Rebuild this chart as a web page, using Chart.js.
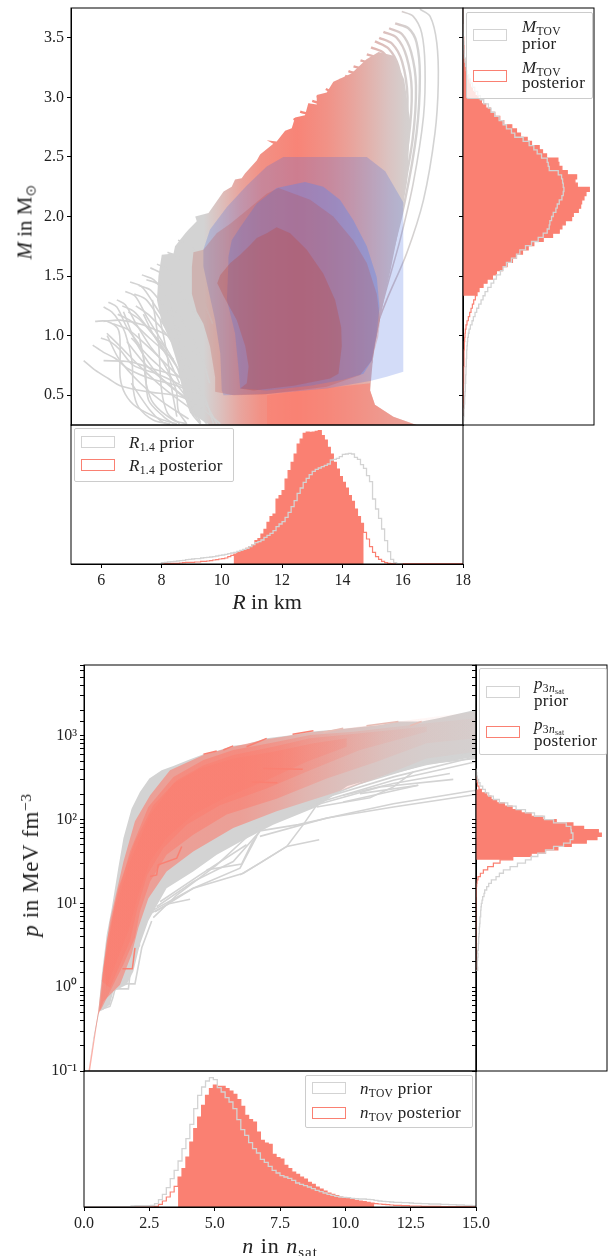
<!DOCTYPE html>
<html>
<head>
<meta charset="utf-8">
<title>EOS posterior</title>
<script src="https://cdn.jsdelivr.net/npm/chart.js@4"></script>
<style>
html,body{margin:0;padding:0;background:#fff;}
#page{position:relative;width:608px;height:1256px;overflow:hidden;font-family:"Liberation Serif",serif;color:#222;}
canvas{position:absolute;}
.legend{position:absolute;box-sizing:border-box;border:1px solid #ccc;border-radius:2px;background:rgba(255,255,255,.8);}
.patch{position:absolute;box-sizing:border-box;border:1.5px solid;background:rgba(255,255,255,.5);}
.txt{position:absolute;white-space:nowrap;font-size:17px;line-height:16px;letter-spacing:.3px;}
.title{position:absolute;white-space:nowrap;transform:translate(-50%,-50%);}
sub{font-size:.68em;line-height:0;vertical-align:-.25em;}
sup{font-size:.68em;line-height:0;vertical-align:.45em;}
</style>
</head>
<body>
<div id="page"></div>
<script>
// ---- axes
var rTicks = [6,8,10,12,14,16,18];
var mTicks = [0.5,1,1.5,2,2.5,3,3.5];
var nTicks = [0,2.5,5,7.5,10,12.5,15];
var pTickLabels = ["10\u207B\u00B9","10\u2070","10\u00B9","10\u00B2","10\u00B3"];

// ---- histograms (arbitrary height units)
var rBins = {start:8, width:0.1};
var rPrior = [4,5,6,7,8,9,10,11,13,14,15,16,16,18,19,20,21,22,24,26,27,29,31,33,35,38,41,44,47,52,58,64,67,72,80,86,92,100,112,120,127,140,155,172,190,212,228,245,257,268,278,284,288,292,296,300,312,314,317,322,329,330,332,330,320,314,298,287,265,247,195,165,137,105,70,37,14,4,1,0];
var rPosterior = [0,1,1,2,2,2,3,4,5,5,5,6,6,8,8,9,10,12,13,15,16,18,22,26,30,34,38,42,47,52,58,70,76,90,104,125,142,150,195,205,220,255,280,305,330,360,375,392,396,395,396,398,400,385,372,350,330,305,285,262,245,228,205,188,165,142,122,95,75,52,35,22,14,8,4,2,1,1,1,1,1,1,1,1,1,1,1,1,1,1,1,1,1,1,1,1,1,1,1,1];
var rFilled = [24,67];

var mBins = {start:0.25, width:0.035};
var mPrior = [1,2,3,3,4,5,5,6,7,7,8,8,9,9,10,10,11,11,12,13,14,16,18,22,27,31,36,41,47,54,60,66,74,84,92,100,112,120,130,145,160,170,187,205,225,240,252,258,260,265,270,278,282,288,296,300,302,300,298,295,285,258,255,252,235,222,212,198,180,155,145,130,120,108,95,84,76,62,52,44,35,28,22,17,13,10,8,6,4,3,2,2,1,1,0.5,0.5,0,0,0,0];
var mPosterior = [0,0,0,0.5,0.5,1,1,1,1,1.5,2,2,2,2,3,3,3,3,4,4,5,6,7,9,12,16,20,24,28,32,37,42,48,60,72,88,100,118,132,148,160,178,195,212,240,268,288,296,306,325,330,345,352,355,362,368,378,342,335,340,312,296,287,284,250,238,228,205,192,172,160,146,122,110,95,82,68,55,45,36,28,22,18,14,10,8,6,5,4,3,3,2,2,1,1,0.5,0,0,0,0];
var mFilled = [31,92];

var pBins = {startLog:0.2, widthLog:0.04};
var pPrior = [5,4,4,5,6,5,7,7,8,8,9,10,10,11,12,12,14,14,15,16,18,20,24,26,32,38,46,60,70,82,102,124,148,165,185,208,232,262,282,290,290,285,284,270,232,205,175,148,120,95,70,52,38,28,20,12,8,4,2,1];
var pPosterior = [0,0,0,0,0,0,0,0,0,0,0,0,0,0,0,0,0,0,0,0,0.5,0.5,1,1,1,2,3,6,13,22,35,52,72,110,165,208,245,285,330,362,375,366,322,290,240,200,165,135,108,85,62,45,32,16,9,5,3,1.5,1,0.5];
var pFilled = [33,54];

var nBins = {start:0, width:0.15};
var nPrior = [0,0,0,0,0,0,0,0,0,0,0,0,3,4,4,4,4,5,10,22,38,58,85,110,138,175,205,248,295,335,360,378,388,382,358,345,328,315,295,262,232,215,193,175,162,143,134,122,110,102,94,90,86,80,72,68,64,60,55,50,46,42,38,35,32,30,29,28,26,25,24,24,23,22,20,18,17,16,15,14,14,13,13,12,11,11,10,10,9,9,9,8,8,7,7,6,6,5,5,4];
var nPosterior = [0,0,0,0,0,0,0,0,0,0,0,0,0,0,0,0,0,0.5,2,8,18,30,45,62,90,115,150,195,235,270,305,335,355,366,362,362,355,348,338,322,302,275,262,255,225,200,192,188,158,148,144,125,115,105,98,90,84,74,68,60,54,48,42,38,34,30,28,25,22,20,18,16,14,12,10,9,8,7,6,5,5,4,4,3,3,3,2,2,2,2,2,1,1,1,1,1,1,1,1,1];
var nFilled = [24,74];

// ---- mass-radius plane, [R, M]
var blueOuter = [[9.39,1.72],[9.39,1.58],[9.56,1.38],[9.78,1.13],[9.95,0.85],[10.0,0.54],[10.06,0.5],[11.49,0.51],[13.48,0.556],[14.92,0.62],[15.47,0.654],[16.02,0.696],[16.02,2.12],[15.42,2.38],[14.81,2.5],[12.04,2.5],[11.49,2.42],[10.83,2.26],[10.17,2.08],[9.61,1.89]];
var blueInner = [[10.22,1.66],[10.33,1.8],[10.61,1.91],[11.16,2.11],[11.82,2.24],[12.76,2.29],[13.37,2.25],[13.92,2.14],[14.36,1.97],[14.81,1.75],[15.14,1.49],[15.23,1.24],[15.14,1.02],[14.97,0.79],[14.7,0.68],[14.03,0.63],[12.93,0.58],[11.49,0.54],[10.61,0.556],[10.55,0.74],[10.44,1.02],[10.17,1.3],[10.22,1.61]];
var redOuter = [[9.06,1.7],[9.01,1.58],[9.01,1.35],[9.17,1.2],[9.39,1.1],[9.61,0.91],[9.78,0.65],[9.78,0.53],[10.39,0.5],[11.38,0.505],[13.48,0.57],[14.59,0.67],[14.97,0.79],[15.19,0.99],[15.25,1.13],[15.14,1.35],[14.81,1.61],[14.36,1.8],[13.7,2.0],[12.93,2.14],[11.88,2.24],[11.49,2.19],[10.72,2.03],[10.28,1.94],[9.83,1.86],[9.39,1.72]];
var redInner = [[9.85,1.44],[9.95,1.51],[10.28,1.61],[10.61,1.68],[10.94,1.76],[11.16,1.82],[11.49,1.86],[11.82,1.91],[12.27,1.86],[12.82,1.72],[13.37,1.52],[13.76,1.3],[13.96,1.07],[13.98,0.91],[13.87,0.68],[13.59,0.64],[12.38,0.58],[11.05,0.54],[10.61,0.556],[10.83,0.6],[10.89,0.74],[10.78,0.91],[10.5,1.13],[10.06,1.33]];

var mrBody = [[8.01,1.68],[8.4,1.69],[8.45,1.75],[8.79,1.86],[8.9,1.89],[9.17,1.96],[9.12,2.0],[9.56,2.03],[10.06,2.21],[10.33,2.25],[10.44,2.31],[10.66,2.32],[10.77,2.36],[11.16,2.47],[11.27,2.52],[11.71,2.61],[11.49,2.64],[11.82,2.63],[12.1,2.72],[12.32,2.74],[12.43,2.83],[12.76,2.85],[12.87,2.95],[13.15,2.94],[13.15,3.02],[13.48,3.04],[13.7,3.13],[14.3,3.2],[14.8,3.32],[15.2,3.38],[15.7,3.35],[16.05,3.15],[16.25,2.8],[16.15,2.3],[15.95,2.0],[15.6,1.55],[15.25,1.16],[15.03,0.85],[14.92,0.54],[15.08,0.42],[15.69,0.32],[16.46,0.25],[9.6,0.25],[8.95,0.35],[8.73,0.51],[8.55,0.75],[8.3,0.95],[8.0,1.12],[7.85,1.3],[7.9,1.5]];
var mrBottomGlow = [[11.5,0.5],[13.5,0.56],[14.92,0.6],[14.92,0.54],[15.08,0.42],[15.69,0.32],[16.46,0.25],[11.5,0.25]];
var mrFadeR = [9.4,10.0,10.6,11.3,12.5,13.5,14.2,14.8,15.5,16.1,16.6];
var mrFadeMix = [0,0.25,0.55,0.8,0.95,0.78,0.6,0.42,0.2,0.05,0];

var mrTopCurves = [
  [[16.57,3.74],[16.91,3.68],[17.13,3.46],[17.18,3.12],[17.07,2.7],[16.69,2.14],[16.13,1.69],[15.47,1.3],[15.14,1.07],[14.97,0.77]],
  [[15.97,3.72],[16.35,3.68],[16.63,3.54],[16.74,3.26],[16.69,2.84],[16.35,2.28],[15.91,1.8],[15.36,1.3],[15.08,0.96]],
  [[15.75,3.62],[16.19,3.58],[16.46,3.46],[16.57,3.18],[16.46,2.7],[16.08,2.14],[15.58,1.63],[15.14,1.16]],
  [[15.55,3.58],[15.98,3.53],[16.28,3.38],[16.44,3.1],[16.33,2.65],[15.95,2.1]],
  [[15.36,3.55],[15.8,3.5],[16.13,3.34],[16.3,3.06],[16.19,2.64],[15.8,2.08],[15.36,1.58],[15.03,1.07]],
  [[15.22,3.5],[15.65,3.45],[15.98,3.3],[16.16,3.0],[16.05,2.6],[15.7,2.05]],
  [[15.08,3.47],[15.53,3.41],[15.86,3.26],[16.02,2.98],[15.91,2.56],[15.58,2.03],[15.19,1.47],[14.97,1.02]],
  [[14.95,3.42],[15.38,3.37],[15.72,3.2],[15.88,2.9],[15.8,2.5]],
  [[14.81,3.36],[15.25,3.32],[15.58,3.15],[15.75,2.87],[15.69,2.47],[15.36,1.97],[15.08,1.44]],
  [[14.6,3.31],[15.05,3.27],[15.4,3.1],[15.6,2.82],[15.55,2.45]],
  [[14.37,3.26],[14.86,3.22],[15.25,3.06],[15.47,2.78],[15.42,2.42],[15.14,1.91]],
  [[14.2,3.22],[14.7,3.17],[15.1,3.02],[15.32,2.75]],
  [[14.09,3.18],[14.59,3.13],[14.97,2.98],[15.19,2.7],[15.14,2.31]],
  [[13.9,3.15],[14.42,3.09],[14.8,2.93],[15.0,2.65]],
  [[13.7,3.12],[14.26,3.05],[14.64,2.88],[14.86,2.59],[14.86,2.36]],
  [[13.45,3.07],[13.98,3.0],[14.4,2.85],[14.65,2.55]],
  [[13.15,3.01],[13.76,2.95],[14.2,2.8],[14.48,2.5]],
  [[13.0,2.97],[13.55,2.92],[14.0,2.76],[14.25,2.5]],
  [[12.87,2.94],[13.37,2.88],[13.81,2.71],[14.09,2.47]],
  [[12.6,2.88],[13.15,2.83],[13.6,2.66],[13.9,2.42]],
  [[12.38,2.82],[12.93,2.77],[13.43,2.61],[13.76,2.39]]
];
var mrLowCurves = [
  [[5.42,0.79],[5.8,0.71],[6.24,0.64],[6.63,0.58],[7.51,0.53],[8.62,0.49],[9.28,0.4],[9.95,0.26]],
  [[5.72,0.92],[6.08,0.86],[6.46,0.81],[6.91,0.72],[7.63,0.64],[8.51,0.58],[9.28,0.49],[9.84,0.26]],
  [[5.99,0.98],[6.3,0.95],[6.63,0.88],[7.07,0.75],[7.85,0.68],[8.73,0.57],[9.5,0.42]],
  [[5.8,1.12],[6.19,1.12],[6.57,1.05],[6.63,0.88],[6.63,0.65],[6.8,0.51],[7.18,0.4],[7.96,0.3],[8.51,0.26]],
  [[6.08,0.79],[6.96,0.78],[7.74,0.72],[8.62,0.65],[9.28,0.56],[9.73,0.26]],
  [[6.08,1.24],[6.35,1.2],[6.57,1.13],[6.8,1.02],[7.02,0.79],[7.07,0.54],[7.24,0.4],[7.74,0.29],[8.29,0.26]],
  [[6.24,1.28],[6.52,1.24],[6.85,1.07],[7.35,0.88],[7.49,0.6],[7.74,0.43],[8.4,0.29],[8.84,0.26]],
  [[6.52,1.3],[6.8,1.26],[7.18,1.09],[7.63,0.91],[8.07,0.77],[8.49,0.54],[8.56,0.37],[8.84,0.26]],
  [[6.8,1.37],[7.13,1.33],[7.51,1.16],[8.07,0.93],[8.51,0.74],[8.78,0.51],[9.0,0.35],[9.28,0.26]],
  [[6.96,1.45],[7.35,1.41],[7.74,1.27],[8.29,1.05],[8.84,0.79],[9.28,0.54]],
  [[7.35,1.51],[7.74,1.47],[8.18,1.33],[8.73,1.1],[9.28,0.85]],
  [[7.63,1.57],[8.07,1.51],[8.62,1.35],[9.28,1.13]],
  [[6.08,1.12],[6.63,1.13],[7.4,1.09],[8.29,0.99],[9.28,0.82]],
  [[7.24,1.02],[7.46,0.74],[7.57,0.46],[8.07,0.32],[8.4,0.26]],
  [[7.96,1.13],[8.18,0.85],[8.35,0.54],[8.51,0.32]],
  [[6.19,1.02],[6.63,0.91],[7.29,0.74],[8.07,0.56],[9.06,0.37]],
  [[6.74,1.2],[7.18,0.93],[7.96,0.65],[8.84,0.46],[9.5,0.26]],
  [[7.1,1.35],[7.5,1.3],[8.1,1.08],[8.8,0.82],[9.4,0.5]],
  [[7.5,1.47],[7.9,1.43],[8.5,1.2],[9.2,0.92],[9.6,0.6]],
  [[7.85,1.6],[8.25,1.55],[8.85,1.3],[9.5,1.0]],
  [[8.2,1.7],[8.6,1.65],[9.2,1.4],[9.7,1.1]],
  [[8.55,1.8],[8.95,1.76],[9.4,1.55]],
  [[6.9,1.2],[7.3,1.13],[7.9,0.95],[8.6,0.7],[9.1,0.4]],
  [[6.4,1.1],[6.9,1.05],[7.5,0.92],[8.2,0.75],[9.0,0.55]],
  [[6.2,1.0],[6.6,0.8],[7.3,0.6],[8.0,0.45],[8.9,0.3]],
  [[7.0,0.98],[7.6,0.82],[8.3,0.65],[9.0,0.42],[9.3,0.27]],
  [[7.7,1.3],[7.9,0.95],[8.0,0.55],[8.2,0.35],[8.6,0.26]],
  [[8.3,1.25],[8.6,0.9],[8.8,0.55],[9.0,0.38],[9.3,0.26]],
  [[7.0,0.6],[7.6,0.38],[8.0,0.28],[8.3,0.25]],
  [[7.25,1.42],[7.65,1.38],[8.2,1.2],[8.7,1.0]],
  [[6.7,1.25],[7.1,1.2],[7.6,1.05],[8.2,0.88]],
  [[6.55,1.18],[7.0,1.12],[7.6,0.98],[8.4,0.8]],
  [[7.15,1.25],[7.6,1.17],[8.2,1.0],[8.8,0.75]],
  [[6.85,0.95],[7.5,0.75],[8.2,0.6],[8.8,0.48]],
  [[7.4,1.18],[7.75,1.0],[8.2,0.82],[8.6,0.6]]
];

// ---- pressure-density plane, [n, log10 p]
var npBody = [[0.17,-1],[0.36,-0.6],[0.55,-0.29],[0.68,0.15],[0.87,0.63],[1.06,0.94],[1.31,1.42],[1.51,1.78],[1.82,2.13],[2.14,2.33],[2.5,2.49],[2.97,2.59],[3.42,2.64],[3.99,2.71],[4.57,2.78],[5.08,2.82],[5.71,2.88],[6.22,2.9],[6.99,2.97],[7.76,3.0],[8.65,3.05],[9.86,3.08],[11.33,3.13],[12.03,3.17],[12.92,3.17],[13.56,3.21],[15,3.31],[15,2.75],[13.11,2.65],[11.2,2.5],[10.08,2.4],[8.9,2.15],[7.24,1.94],[6.0,1.74],[5.08,1.58],[4.18,1.38],[3.16,1.18],[2.65,0.9],[2.46,0.79],[2.14,0.51],[1.89,0.19],[1.63,0.03],[1.12,-0.05],[0.99,-0.21],[0.74,-0.27],[0.59,-0.29],[0.36,-0.64]];
var npSalmonA = [[0.17,-1],[0.55,-0.27],[0.74,0.23],[0.99,0.79],[1.51,1.5],[1.95,1.98],[2.53,2.29],[3.29,2.59],[4.57,2.77],[5.71,2.87],[6.99,2.96],[8.65,3.04],[9.86,3.08],[12.03,3.17],[15,3.29],[15,2.81],[13.11,2.73],[11.2,2.49],[9.29,2.29],[7.37,2.1],[5.71,1.9],[4.18,1.62],[3.16,1.38],[2.46,1.06],[2.08,0.71],[1.82,0.39],[1.38,0.03],[0.74,-0.17],[0.55,-0.33],[0.23,-1]];
var npSalmonB = [[0.59,-0.29],[0.77,0.27],[1.19,1.0],[1.76,1.62],[2.46,2.15],[3.42,2.51],[4.57,2.71],[5.71,2.83],[7.24,2.92],[8.65,3.01],[10.31,3.05],[13.11,3.15],[15,3.21],[15,2.97],[13.11,2.91],[11.2,2.69],[9.29,2.49],[7.37,2.25],[5.46,2.06],[4.18,1.82],[3.16,1.58],[2.53,1.26],[2.14,0.9],[1.95,0.59],[1.51,0.27],[1.25,0.11],[0.68,-0.25]];
var npSalmonC = [[0.68,0.07],[0.87,0.55],[1.31,1.18],[1.95,1.74],[2.65,2.17],[3.55,2.47],[4.57,2.65],[5.71,2.77],[7.24,2.87],[8.65,2.97],[10.56,3.03],[13.11,3.11],[13.11,3.05],[10.56,2.83],[8.65,2.59],[6.99,2.37],[5.2,2.17],[3.93,1.94],[3.04,1.66],[2.42,1.34],[2.04,0.94],[1.76,0.55],[1.38,0.27],[1.0,-0.01]];
var npSalmonD = [[0.77,0.23],[1.12,0.87],[1.76,1.5],[2.53,2.06],[3.42,2.43],[4.44,2.61],[5.71,2.73],[7.24,2.81],[8.78,2.91],[10.05,2.97],[10.05,2.87],[8.52,2.69],[6.99,2.47],[5.46,2.27],[4.18,2.06],[3.16,1.78],[2.53,1.5],[2.08,1.1],[1.7,0.67],[1.25,0.31],[0.87,-0.01]];
var npFadeN = [0,6,7.5,8.5,10,11.5,13,15];
var npFadeAlpha = [0.62,0.62,0.48,0.35,0.22,0.12,0.07,0.04];

var npGreyLines = [
  [[8.78,2.21],[11.84,2.59],[15,2.81]],
  [[9.29,2.27],[11.84,2.51],[15,2.75]],
  [[9.03,2.21],[11.84,2.47],[15,2.69]],
  [[9.92,2.29],[11.84,2.43],[14.0,2.55]],
  [[10.56,2.31],[12.79,2.41]],
  [[8.01,2.1],[11.33,2.39],[14.13,2.48]],
  [[10.56,2.43],[13.11,2.67],[15,2.73]],
  [[13.11,2.73],[15,2.85]],
  [[6.61,1.86],[8.2,1.94],[9.92,2.06],[11.84,2.19],[15,2.35]],
  [[6.73,1.8],[9.29,2.02],[11.84,2.15],[15,2.3]],
  [[2.53,0.88],[3.29,1.0],[4.06,1.05]],
  [[2.65,0.92],[4.18,1.18],[6.1,1.36],[7.76,1.68],[9.0,1.76]],
  [[4.69,1.4],[6.03,1.47],[6.42,1.72],[6.73,1.86]],
  [[5.97,1.34],[6.73,1.48],[7.76,1.68],[8.39,1.94],[8.9,2.17]],
  [[8.9,2.15],[10.94,2.26],[11.84,2.39],[12.6,2.57]],
  [[9.92,2.21],[12.79,2.41]],
  [[2.72,0.9],[4.18,1.18],[5.97,1.42],[6.61,1.8]],
  [[2.78,0.96],[4.18,1.26],[5.71,1.5],[6.73,1.86]],
  [[2.91,1.02],[4.44,1.34],[6.22,1.7]],
  [[2.65,0.83],[3.55,1.1],[5.08,1.46],[6.61,1.9]],
  [[0.61,-0.27],[0.99,-0.23],[1.1,-0.13],[1.19,-0.02],[1.7,-0.02],[1.82,0.33],[2.14,0.51]],
  [[1.44,0.04],[1.95,0.04],[2.21,0.47],[2.59,0.79]]
];
var npSalmonLines = [
  [[1.47,0.22],[1.85,0.22],[1.95,0.47]],
  [[2.53,1.32],[2.78,1.34],[2.84,1.46],[3.55,1.54],[3.74,1.68]],
  [[6.86,2.61],[8.37,2.6]],
  [[6.42,2.45],[7.4,2.44]],
  [[4.57,2.78],[5.08,2.82]],
  [[5.33,2.83],[5.71,2.88]],
  [[6.22,2.87],[6.99,2.97]],
  [[7.98,3.02],[8.78,3.06]]
];
var npPaleLines = [
  [[9.16,3.04],[9.92,3.09]],
  [[10.81,3.12],[12.03,3.17]],
  [[12.47,3.12],[12.92,3.17]]
];

// ---- colours
var GREY = "#d3d3d3", SALMON = "#fa8072", PALE = "#e8bdb5", INK = "#222";

var page = document.getElementById("page");
var MARGIN = {left:70, right:16, top:6, bottom:40};

function xy(pairs){
  return pairs.map(function(p){ return {x:p[0], y:p[1]}; });
}
function xyLog(pairs){
  return pairs.map(function(p){ return {x:p[0], y:Math.pow(10,p[1])}; });
}
function shape(data, color){
  return {data:data, showLine:true, fill:"shape", backgroundColor:color, borderWidth:0, pointRadius:0};
}
function line(data, color, width, tension){
  return {data:data, showLine:true, fill:false, borderColor:color, borderWidth:width, pointRadius:0, tension:tension||0};
}
// grey-to-salmon across R, so curves and body blend the same way
function mrGradient(ctx){
  var chart = ctx.chart;
  if(!chart.chartArea) return GREY;
  var s = chart.scales.x, a = s.getPixelForValue(mrFadeR[0]), b = s.getPixelForValue(mrFadeR[mrFadeR.length-1]);
  var g = chart.ctx.createLinearGradient(a,0,b,0);
  mrFadeR.forEach(function(r,i){
    var t = mrFadeMix[i];
    var col = "rgb("+Math.round(211+39*t)+","+Math.round(211-83*t)+","+Math.round(211-97*t)+")";
    g.addColorStop((s.getPixelForValue(r)-a)/(b-a), col);
  });
  return g;
}
// salmon wash that thins out towards high density
function npGradient(ctx){
  var chart = ctx.chart;
  if(!chart.chartArea) return SALMON;
  var s = chart.scales.x, a = s.getPixelForValue(0), b = s.getPixelForValue(15);
  var g = chart.ctx.createLinearGradient(a,0,b,0);
  npFadeN.forEach(function(n,i){
    g.addColorStop(n/15, "rgba(250,128,114,"+npFadeAlpha[i]+")");
  });
  return g;
}

// outline of a histogram as a stepped path; edge(i) gives the lower bin edge
function stepPoints(values, edge, sideways, from, to){
  var pts = [];
  function add(a,b){ pts.push(sideways ? {x:b, y:a} : {x:a, y:b}); }
  add(edge(from), 0);
  for(var i=from;i<to;i++) add(edge(i), values[i]);
  add(edge(to), values[to-1]);
  add(edge(to), 0);
  return pts;
}
function histSets(prior, posterior, filled, edge, sideways){
  var step = sideways ? "after" : "before";
  return [
    {data:stepPoints(posterior,edge,sideways,filled[0],filled[1]), showLine:true, fill:"shape", backgroundColor:SALMON, borderWidth:0, pointRadius:0, stepped:step},
    {data:stepPoints(posterior,edge,sideways,0,posterior.length), showLine:true, fill:false, borderColor:SALMON, borderWidth:1.2, pointRadius:0, stepped:step},
    {data:stepPoints(prior,edge,sideways,0,prior.length), showLine:true, fill:false, borderColor:GREY, borderWidth:1.3, pointRadius:0, stepped:step}
  ];
}
function explicitTicks(list){
  return function(scale){ scale.ticks = list.map(function(v){ return {value:v}; }); };
}
var tickFont = {family:"'Liberation Serif'", size:16};

function hiddenAxis(min,max){
  return {type:"linear", display:false, min:min, max:max};
}
function shownAxis(type,min,max,labels,size,build){
  return {
    type:type, min:min, max:max,
    afterFit:function(s){
      if(s.isHorizontal()) s.height=size; else s.width=size;
      s.paddingLeft = s.paddingRight = s.paddingTop = s.paddingBottom = 0;
    },
    afterBuildTicks:build,
    grid:{drawOnChartArea:false, drawTicks:true, tickLength:4, tickColor:"#000"},
    border:{color:"#000"},
    ticks:{color:INK, font:tickFont, padding:3, autoSkip:false, maxRotation:0, callback:labels}
  };
}
function noLabel(){ return ""; }
function fixed1(v){ return v.toFixed(1); }
function plain(v){ return String(v); }
function pLabel(v){
  var d = Math.log10(v);
  return Math.abs(d-Math.round(d))<1e-6 ? pTickLabels[Math.round(d)+1] : "";
}

var spines = {
  id:"spines",
  afterDatasetsDraw:function(chart){
    var a = chart.chartArea, c = chart.ctx;
    c.save();
    c.strokeStyle = "#000";
    c.lineWidth = 1;
    c.strokeRect(a.left, a.top, a.right-a.left, a.bottom-a.top);
    c.restore();
  }
};

function panel(box, scales, sets){
  var cv = document.createElement("canvas");
  var w = box.r-box.l+MARGIN.left+MARGIN.right, h = box.b-box.t+MARGIN.top+MARGIN.bottom;
  cv.width = w; cv.height = h;
  cv.style.left = (box.l-MARGIN.left)+"px";
  cv.style.top = (box.t-MARGIN.top)+"px";
  page.appendChild(cv);
  var xSize = scales.x.display===false ? 0 : 30;
  var ySize = scales.y.display===false ? 0 : 60;
  return new Chart(cv.getContext("2d"), {
    type:"scatter",
    data:{datasets:sets.slice().reverse()},
    options:{
      responsive:false, animation:false, events:[],
      layout:{padding:{left:MARGIN.left-ySize, right:MARGIN.right, top:MARGIN.top, bottom:MARGIN.bottom-xSize}},
      plugins:{legend:{display:false}, tooltip:{enabled:false}},
      scales:scales
    },
    plugins:[spines]
  });
}

// ---- top block
var mrSets = [shape(xy(mrBody),mrGradient)];
mrLowCurves.forEach(function(c){ mrSets.push(line(xy(c),GREY,1.6,0.3)); });
mrTopCurves.forEach(function(c,i){ mrSets.push(line(xy(c),mrGradient,i<2?1.6:2.4,0.3)); });
mrSets.push(shape(xy(mrBottomGlow),"rgba(250,128,114,.6)"));
mrSets.push(shape(xy(blueOuter),"rgba(65,105,225,.23)"));
mrSets.push(shape(xy(blueInner),"rgba(90,135,240,.38)"));
mrSets.push(shape(xy(redOuter),"rgba(190,70,60,.22)"));
mrSets.push(shape(xy(redInner),"rgba(190,70,60,.3)"));

panel({l:71,r:463,t:8,b:425},
  {x:hiddenAxis(5,18), y:shownAxis("linear",0.25,3.75,fixed1,60,explicitTicks(mTicks))},
  mrSets);
panel({l:463,r:594,t:8,b:425},
  {x:hiddenAxis(0,392), y:shownAxis("linear",0.25,3.75,noLabel,60,explicitTicks(mTicks))},
  histSets(mPrior,mPosterior,mFilled,function(i){ return mBins.start+i*mBins.width; },true));
panel({l:71,r:463,t:425,b:564},
  {x:shownAxis("linear",5,18,plain,30,explicitTicks(rTicks)), y:hiddenAxis(0,417)},
  histSets(rPrior,rPosterior,rFilled,function(i){ return rBins.start+i*rBins.width; },false));

// ---- bottom block
var npSets = [shape(xyLog(npBody),GREY)];
npGreyLines.forEach(function(c){ npSets.push(line(xyLog(c),GREY,1.6)); });
[npSalmonA,npSalmonB,npSalmonC,npSalmonD].forEach(function(p){ npSets.push(shape(xyLog(p),npGradient)); });
npSalmonLines.forEach(function(c){ npSets.push(line(xyLog(c),SALMON,1.5)); });
npPaleLines.forEach(function(c){ npSets.push(line(xyLog(c),PALE,1.5)); });

panel({l:84,r:476,t:665,b:1071},
  {x:hiddenAxis(0,15), y:shownAxis("logarithmic",0.1,7000,pLabel,60)},
  npSets);
panel({l:476,r:607,t:665,b:1071},
  {x:hiddenAxis(0,392), y:shownAxis("logarithmic",0.1,7000,noLabel,60)},
  histSets(pPrior,pPosterior,pFilled,function(i){ return Math.pow(10,pBins.startLog+i*pBins.widthLog); },true));
panel({l:84,r:476,t:1071,b:1207},
  {x:shownAxis("linear",0,15,fixed1,30,explicitTicks(nTicks)), y:hiddenAxis(0,408)},
  histSets(nPrior,nPosterior,nFilled,function(i){ return nBins.start+i*nBins.width; },false));

// ---- text: legends and axis titles
function legendBox(l,t,w,h,rows){
  var d = document.createElement("div");
  d.className = "legend";
  d.style.cssText = "left:"+l+"px;top:"+t+"px;width:"+w+"px;height:"+h+"px";
  rows.forEach(function(r){
    var p = document.createElement("div");
    p.className = "patch";
    p.style.cssText = "left:"+r.px+"px;top:"+r.py+"px;width:34px;height:12px;border-color:"+r.color;
    d.appendChild(p);
    r.lines.forEach(function(ln){
      var s = document.createElement("div");
      s.className = "txt";
      s.style.left = r.tx+"px";
      s.style.top = ln[1]+"px";
      s.innerHTML = ln[0];
      d.appendChild(s);
    });
  });
  page.appendChild(d);
}
legendBox(466,12,127,87,[
  {px:6,py:16,color:GREY,tx:55,lines:[["<i>M</i><sub>TOV</sub>",6],["prior",23]]},
  {px:6,py:57,color:SALMON,tx:55,lines:[["<i>M</i><sub>TOV</sub>",47],["posterior",62]]}
]);
legendBox(74,428,160,54,[
  {px:6,py:7,color:GREY,tx:54,lines:[["<i>R</i><sub>1.4</sub> prior",6]]},
  {px:6,py:30,color:SALMON,tx:54,lines:[["<i>R</i><sub>1.4</sub> posterior",29]]}
]);
legendBox(479,668,128,87,[
  {px:6,py:17,color:GREY,tx:54,lines:[["<i>p</i><sub>3<i>n</i><sub>sat</sub></sub>",7],["prior",24]]},
  {px:6,py:57,color:SALMON,tx:54,lines:[["<i>p</i><sub>3<i>n</i><sub>sat</sub></sub>",48],["posterior",64]]}
]);
legendBox(305,1075,168,53,[
  {px:6,py:6,color:GREY,tx:54,lines:[["<i>n</i><sub>TOV</sub> prior",5]]},
  {px:6,py:31,color:SALMON,tx:54,lines:[["<i>n</i><sub>TOV</sub> posterior",29]]}
]);

function title(html,x,y,size,rot,track){
  var s = document.createElement("div");
  s.className = "title";
  s.style.left = x+"px";
  s.style.top = y+"px";
  s.style.fontSize = size+"px";
  if(track) s.style.letterSpacing = track+"px";
  if(rot) s.style.transform = "translate(-50%,-50%) rotate(-90deg)";
  s.innerHTML = html;
  page.appendChild(s);
}
title("<i>R</i> in km",267,602,22);
title("<i>M</i> in M<sub>\u2299</sub>",25,222,21,true);
title("<i>n</i> in <i>n</i><sub>sat</sub>",280,1246,22,false,1);
title("<i>p</i> in MeV fm<sup>\u22123</sup>",31,865,23,true,0.6);
</script>
</body>
</html>
